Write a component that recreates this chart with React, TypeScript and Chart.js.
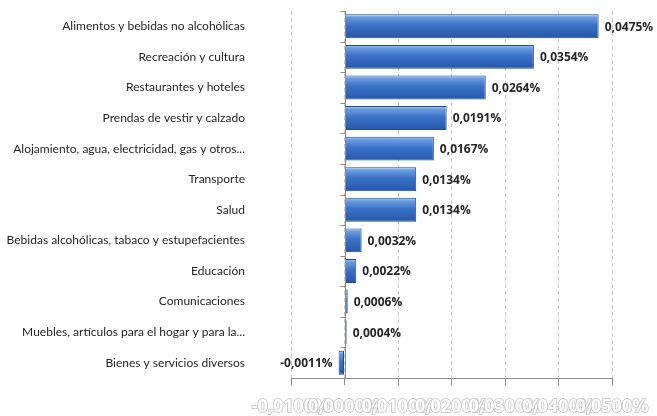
import { useEffect, useRef } from "react"
import { Chart, registerables } from "chart.js"

Chart.register(...registerables)

const categories = [
  "Alimentos y bebidas no alcohólicas",
  "Recreación y cultura",
  "Restaurantes y hoteles",
  "Prendas de vestir y calzado",
  "Alojamiento, agua, electricidad, gas y otros...",
  "Transporte",
  "Salud",
  "Bebidas alcohólicas, tabaco y estupefacientes",
  "Educación",
  "Comunicaciones",
  "Muebles, artículos para el hogar y para la...",
  "Bienes y servicios diversos",
]

const values = [0.0475, 0.0354, 0.0264, 0.0191, 0.0167, 0.0134, 0.0134, 0.0032, 0.0022, 0.0006, 0.0004, -0.0011]

const xMin = -0.01
const xMax = 0.05
const xStep = 0.01

const fmt = (v: number, d: number) => v.toFixed(d).replace(".", ",") + "%"

const BAR_PCT = 0.78

// zero axis line + category tick marks, drawn at x = 0 like the original
const zeroAxis = {
  id: "zeroAxis",
  afterDatasetsDraw(chart: Chart) {
    const { ctx, chartArea, scales } = chart
    const x0 = Math.round(scales.x.getPixelForValue(0)) + 0.5
    ctx.save()
    ctx.strokeStyle = "#8c8c8c"
    ctx.lineWidth = 1
    ctx.beginPath()
    ctx.moveTo(x0, chartArea.top)
    ctx.lineTo(x0, chartArea.bottom)
    const step = (chartArea.bottom - chartArea.top) / categories.length
    for (let i = 0; i < categories.length; i++) {
      const ty = Math.round(chartArea.top + i * step) + 0.5
      ctx.moveTo(x0 - 5, ty)
      ctx.lineTo(x0, ty)
    }
    ctx.stroke()
    ctx.restore()
  },
}

// bold value labels next to the bar ends
const valueLabels = {
  id: "valueLabels",
  afterDatasetsDraw(chart: Chart) {
    const { ctx } = chart
    const meta = chart.getDatasetMeta(0)
    ctx.save()
    ctx.font = "bold 12px 'Open Sans'"
    ctx.fillStyle = "#262626"
    ctx.textBaseline = "middle"
    meta.data.forEach((bar: any, i) => {
      const v = values[i]
      if (v >= 0) {
        ctx.textAlign = "left"
        ctx.fillText(fmt(v, 4), bar.x + 6, bar.y + 1)
      } else {
        ctx.textAlign = "right"
        ctx.fillText(fmt(v, 4), bar.x - 6, bar.y + 1)
      }
    })
    ctx.restore()
  },
}

export default function App() {
  const chartRef = useRef<HTMLCanvasElement>(null)
  const chartInstance = useRef<Chart | null>(null)

  useEffect(() => {
    if (!chartRef.current) return
    if (chartInstance.current) chartInstance.current.destroy()
    const ctx = chartRef.current.getContext("2d")
    if (!ctx) return

    chartInstance.current = new Chart(ctx, {
      type: "bar",
      data: {
        labels: categories,
        datasets: [
          {
            data: values,
            backgroundColor: (c: any) => {
              const chart = c.chart
              const ys = chart.scales?.y
              if (!ys || c.type !== "data" || !chart.chartArea) return "#3b72c6"
              const step = (chart.chartArea.bottom - chart.chartArea.top) / categories.length
              const mid = ys.getPixelForValue(c.dataIndex)
              const h = (step * BAR_PCT) / 2
              const g = chart.ctx.createLinearGradient(0, mid - h, 0, mid + h)
              g.addColorStop(0, "#b8d3f6")
              g.addColorStop(0.12, "#6d9de0")
              g.addColorStop(0.45, "#3c73c7")
              g.addColorStop(1, "#2457a8")
              return g
            },
            borderColor: "#1d4b8e",
            borderWidth: 1,
            borderSkipped: false,
            barPercentage: BAR_PCT,
            categoryPercentage: 1,
          },
        ],
      },
      options: {
        indexAxis: "y",
        animation: false,
        responsive: true,
        maintainAspectRatio: false,
        layout: {
          padding: { top: 11, right: 45, bottom: 0, left: 0 },
        },
        scales: {
          x: {
            min: xMin,
            max: xMax,
            afterFit: (scale: any) => {
              scale.height = 38
              scale.paddingRight = 0
              scale.paddingLeft = 0
            },
            grid: {
              color: "#c8c8c8",
              tickColor: "#8c8c8c",
              tickLength: 7,
            },
            border: {
              display: true,
              color: "#8c8c8c",
              dash: [4, 3],
            },
            ticks: {
              stepSize: xStep,
              autoSkip: false,
              maxRotation: 0,
              padding: 11,
              color: "#ffffff",
              textStrokeColor: "#c4c4c4",
              textStrokeWidth: 1.5,
              font: { family: "'Open Sans'", size: 18, weight: "bold" },
              callback: (v: any) => fmt(Number(v), 4),
            },
          },
          y: {
            grid: { display: false, drawTicks: false },
            border: { display: false },
            afterFit: (scale: any) => {
              scale.width = 291
              scale.paddingTop = 0
              scale.paddingBottom = 0
            },
            ticks: {
              padding: 46,
              color: "#262626",
              font: { family: "Lato", size: 12 },
            },
          },
        },
        plugins: {
          legend: { display: false },
          tooltip: { enabled: false },
        },
      },
      plugins: [zeroAxis, valueLabels],
    })

    return () => {
      if (chartInstance.current) {
        chartInstance.current.destroy()
        chartInstance.current = null
      }
    }
  }, [])

  return (
    <div style={{ position: "fixed", left: 0, top: 0, width: 657, height: 416, background: "#fff" }}>
      <canvas ref={chartRef}></canvas>
    </div>
  )
}
